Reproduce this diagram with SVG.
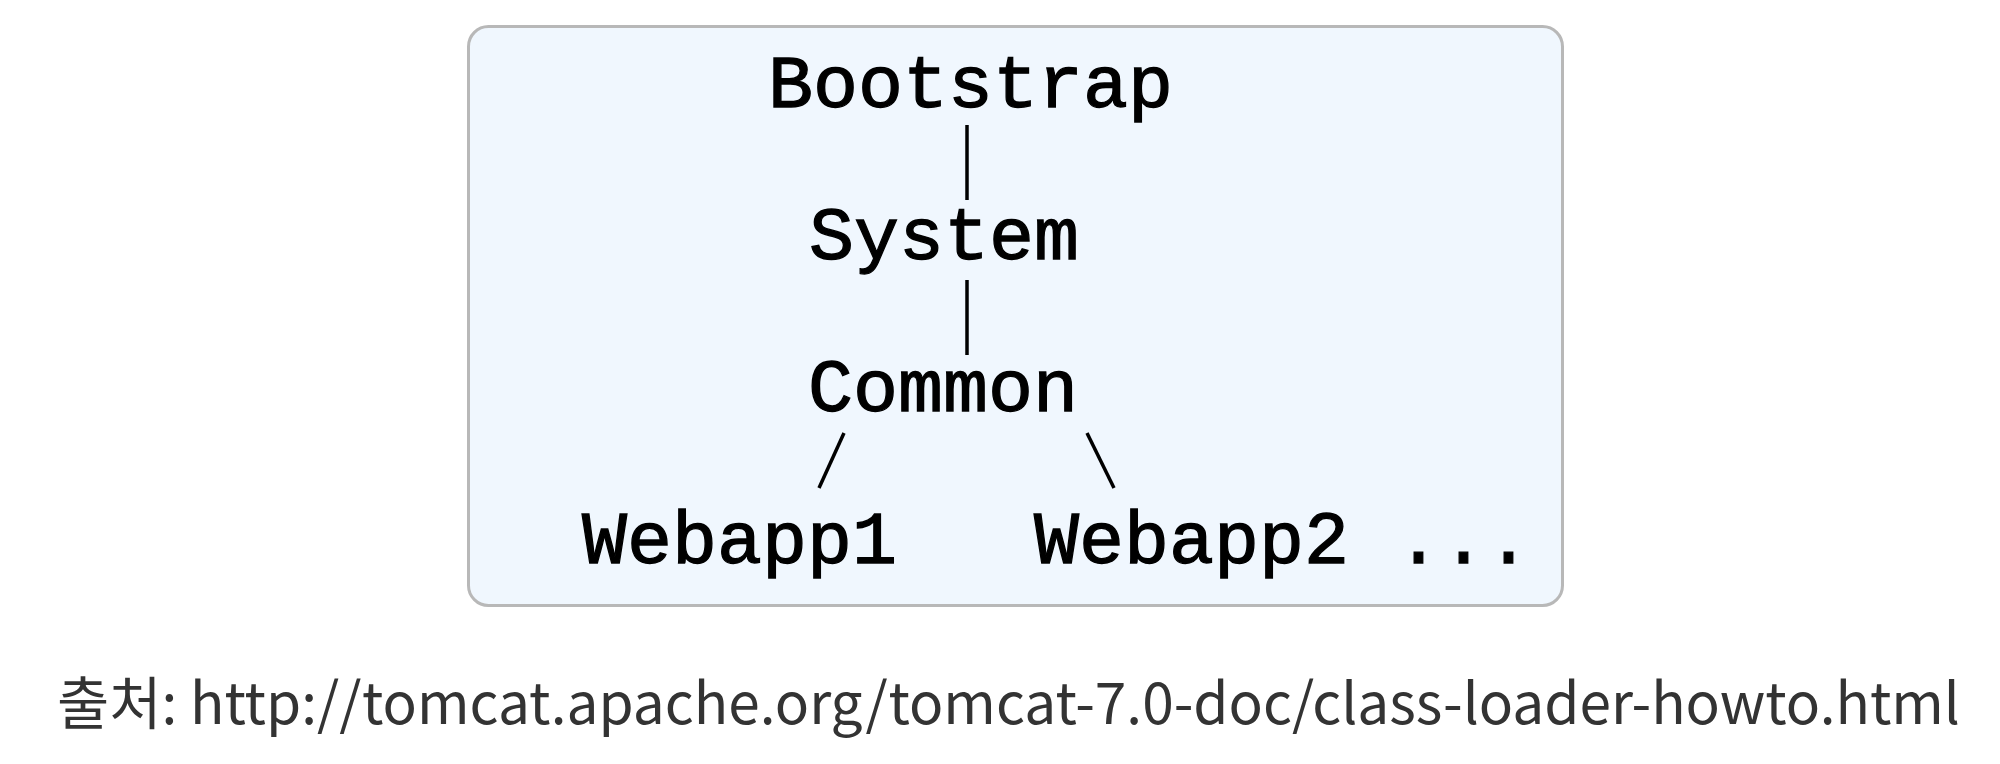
<svg xmlns="http://www.w3.org/2000/svg" width="2000" height="764" viewBox="0 0 2000 764">
<style>
.mono{font-family:"Liberation Mono","Courier New",monospace;font-size:75px;fill:#000;stroke:#000;stroke-width:1.3;}
.conn line{stroke:#000;stroke-width:3.5;stroke-linecap:butt;}
.cap{font-family:"Noto Sans CJK KR","Noto Sans",sans-serif;font-size:57px;fill:#333;}
</style>
<rect x="0" y="0" width="2000" height="764" fill="#ffffff"/>
<g id="panel">
<rect x="468.5" y="26.5" width="1094" height="579" rx="20" ry="20" fill="#f0f7fe" stroke="#b8b8b8" stroke-width="3"/>
</g>
<g id="connectors" class="conn">
<line x1="967" y1="125" x2="967" y2="200"/>
<line x1="967" y1="280" x2="967" y2="355"/>
<line x1="844" y1="433" x2="819" y2="488"/>
<line x1="1087" y1="433" x2="1114" y2="488"/>
</g>
<g id="node-bootstrap"><text class="mono" x="768" y="107">Bootstrap</text></g>
<g id="node-system"><text class="mono" x="809" y="259">System</text></g>
<g id="node-common"><text class="mono" x="808" y="411">Common</text></g>
<g id="node-webapp1"><text class="mono" x="582" y="563">Webapp1</text></g>
<g id="node-webapp2"><text class="mono" x="1034" y="563">Webapp2</text></g>
<g id="node-more"><text class="mono" x="1396" y="563">...</text></g>
<g id="caption"><text class="cap" x="57" y="724" textLength="1903" lengthAdjust="spacingAndGlyphs">출처: http://tomcat.apache.org/tomcat-7.0-doc/class-loader-howto.html</text></g>
</svg>
